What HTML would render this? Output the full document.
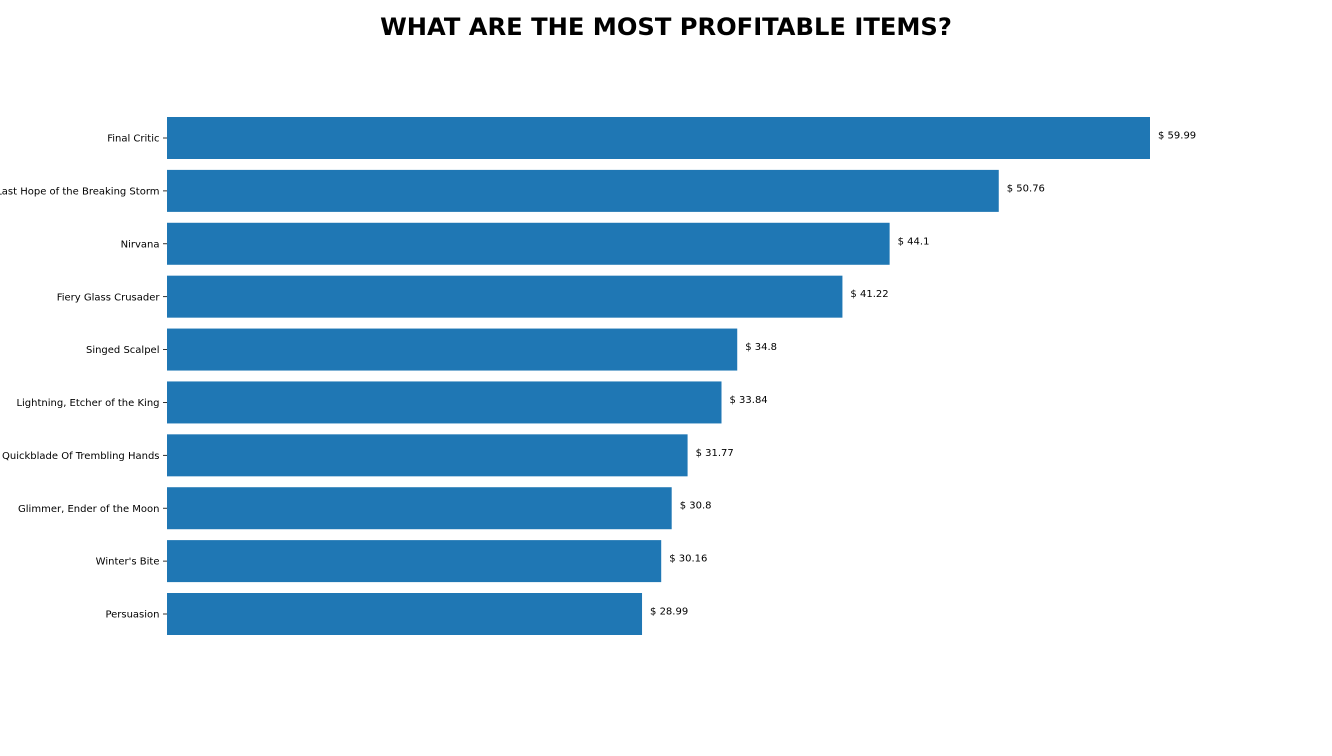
<!DOCTYPE html>
<html>
<head>
<meta charset="utf-8">
<style>
html,body{margin:0;padding:0;background:#fff;}
svg{display:block;font-family:"DejaVu Sans","Liberation Sans",sans-serif;}
</style>
</head>
<body>
<svg id="chart" width="1332" height="756" viewBox="0 0 1332 756">
  <text x="666" y="35" text-anchor="middle" font-size="24.2" font-weight="bold" fill="#000">WHAT ARE THE MOST PROFITABLE ITEMS?</text>
  <g id="plot"></g>
</svg>
<script>
const categories = ["Final Critic","Last Hope of the Breaking Storm","Nirvana","Fiery Glass Crusader","Singed Scalpel","Lightning, Etcher of the King","Quickblade Of Trembling Hands","Glimmer, Ender of the Moon","Winter's Bite","Persuasion"];
const values = [59.99,50.76,44.1,41.22,34.8,33.84,31.77,30.8,30.16,28.99];
const valueLabels = ["$ 59.99","$ 50.76","$ 44.1","$ 41.22","$ 34.8","$ 33.84","$ 31.77","$ 30.8","$ 30.16","$ 28.99"];

const x0 = 167, pxPerUnit = 983/59.99;
const xScale = v => x0 + v*pxPerUnit;
const yTop = 138, step = (614-138)/9, barH = 42;
const yScale = i => yTop + i*step;
const NS = "http://www.w3.org/2000/svg";
const g = document.getElementById("plot");

categories.forEach((c,i)=>{
  const cy = yScale(i);
  const r = document.createElementNS(NS,"rect");
  r.setAttribute("x", x0);
  r.setAttribute("y", cy - barH/2);
  r.setAttribute("width", xScale(values[i]) - x0);
  r.setAttribute("height", barH);
  r.setAttribute("fill", "#1f77b4");
  
  
  g.appendChild(r);

  const t = document.createElementNS(NS,"line");
  t.setAttribute("x1", x0-4); t.setAttribute("x2", x0);
  t.setAttribute("y1", cy); t.setAttribute("y2", cy);
  t.setAttribute("stroke", "#000"); t.setAttribute("stroke-width", "0.8");
  
  
  g.appendChild(t);

  const lab = document.createElementNS(NS,"text");
  lab.setAttribute("x", x0-7.5); lab.setAttribute("y", cy+3.6);
  lab.setAttribute("text-anchor", "end"); lab.setAttribute("font-size", "10");
  lab.textContent = c;
  
  
  g.appendChild(lab);

  const v = document.createElementNS(NS,"text");
  v.setAttribute("x", xScale(values[i]) + 8); v.setAttribute("y", cy+0.5);
  v.setAttribute("font-size", "10");
  v.textContent = valueLabels[i];
  
  
  g.appendChild(v);
});
</script>
</body>
</html>
